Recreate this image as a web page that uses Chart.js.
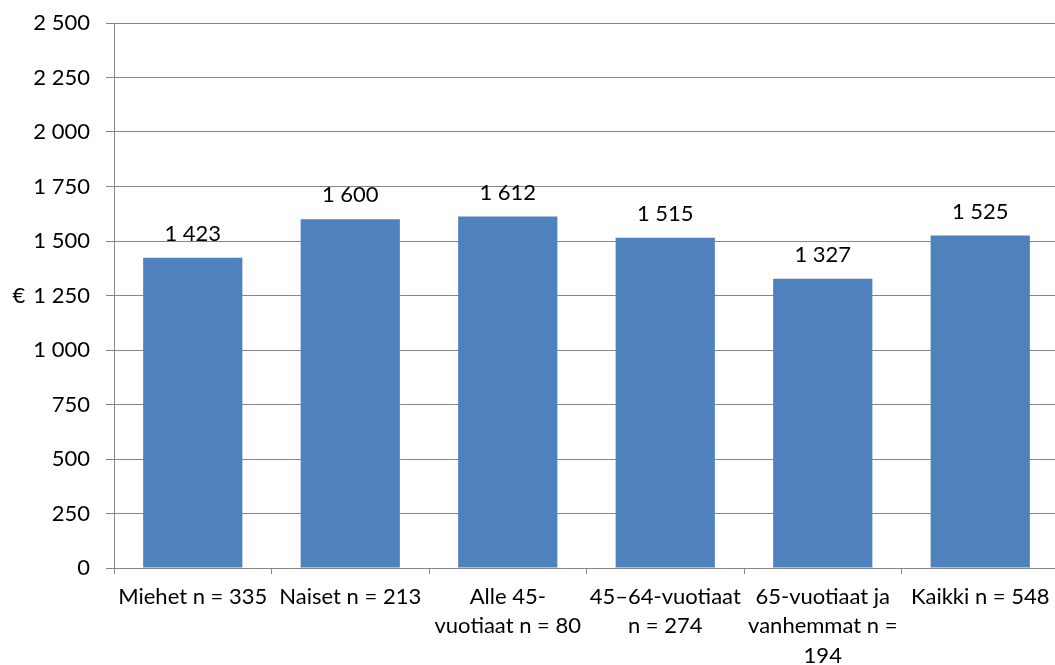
<!DOCTYPE html>
<html>
<head>
<meta charset="utf-8">
<script src="https://cdn.jsdelivr.net/npm/chart.js@4"></script>
<style>
  html, body { margin: 0; padding: 0; background: #fff; overflow: hidden; }
  #wrap { position: relative; width: 1059px; height: 665px; }
</style>
</head>
<body>
<div id="wrap"><canvas id="chart" width="1059" height="665"></canvas></div>
<script>
// average amounts per group, in euros
const categories = [
  'Miehet n = 335',
  'Naiset n = 213',
  ['Alle 45-', 'vuotiaat n = 80'],
  ['45\u201364-vuotiaat', 'n = 274'],
  ['65-vuotiaat ja', 'vanhemmat n =', '194'],
  'Kaikki n = 548'
];
const values = [1423, 1600, 1612, 1515, 1327, 1525];
const yTicks = [0, 250, 500, 750, 1000, 1250, 1500, 1750, 2000, 2250, 2500];
const yTitle = '\u20ac';

const FONT = 'Lato, "Open Sans", sans-serif';
const GRID = '#868686';

// thousands separated with a space: 1423 -> "1 423"
const fmt = (v) => String(v).replace(/\B(?=(\d{3})+(?!\d))/g, ' ');

const valueLabels = {
  id: 'valueLabels',
  afterDatasetsDraw(chart) {
    const ctx = chart.ctx;
    const meta = chart.getDatasetMeta(0);
    ctx.save();
    ctx.font = '22px ' + FONT;
    ctx.fillStyle = '#000';
    ctx.textAlign = 'center';
    ctx.textBaseline = 'middle';
    meta.data.forEach((bar, i) => {
      ctx.fillText(fmt(values[i]), bar.x, bar.y - 24);
    });
    ctx.restore();
  }
};

// upright axis title, Excel style
const euroTitle = {
  id: 'euroTitle',
  afterDraw(chart) {
    const ctx = chart.ctx;
    const area = chart.chartArea;
    ctx.save();
    ctx.font = '22px ' + FONT;
    ctx.fillStyle = '#000';
    ctx.textAlign = 'center';
    ctx.textBaseline = 'middle';
    ctx.fillText(yTitle, 19, (area.top + area.bottom) / 2);
    ctx.restore();
  }
};

new Chart(document.getElementById('chart'), {
  type: 'bar',
  data: {
    labels: categories,
    datasets: [{
      data: values,
      backgroundColor: '#4F81BD',
      borderWidth: 0,
      categoryPercentage: 0.63,
      barPercentage: 1
    }]
  },
  options: {
    responsive: false,
    animation: false,
    devicePixelRatio: 1,
    layout: { padding: { top: 23, right: 0, left: 0, bottom: 0 } },
    plugins: {
      legend: { display: false },
      tooltip: { enabled: false }
    },
    scales: {
      x: {
        grid: { drawOnChartArea: false, drawTicks: true, tickLength: 6, color: GRID, offset: true },
        border: { display: true, color: GRID, width: 1 },
        ticks: {
          color: '#000',
          font: { family: FONT, size: 22, lineHeight: 1.34 },
          maxRotation: 0,
          minRotation: 0,
          autoSkip: false,
          padding: 8
        },
        afterFit(scale) {
          scale.height = 97;
          scale.paddingLeft = 0;
          scale.paddingRight = 0;
        }
      },
      y: {
        min: 0,
        max: 2500,
        afterBuildTicks(scale) { scale.ticks = yTicks.map(v => ({ value: v })); },
        grid: { color: GRID, tickLength: 8, drawTicks: true },
        border: { display: true, color: GRID, width: 1 },
        ticks: {
          color: '#000',
          font: { family: FONT, size: 22 },
          padding: 16,
          callback: (v) => fmt(v)
        },
        afterFit(scale) {
          scale.width = 114;
          scale.paddingTop = 0;
          scale.paddingBottom = 0;
        }
      }
    }
  },
  plugins: [valueLabels, euroTitle]
});
</script>
</body>
</html>
